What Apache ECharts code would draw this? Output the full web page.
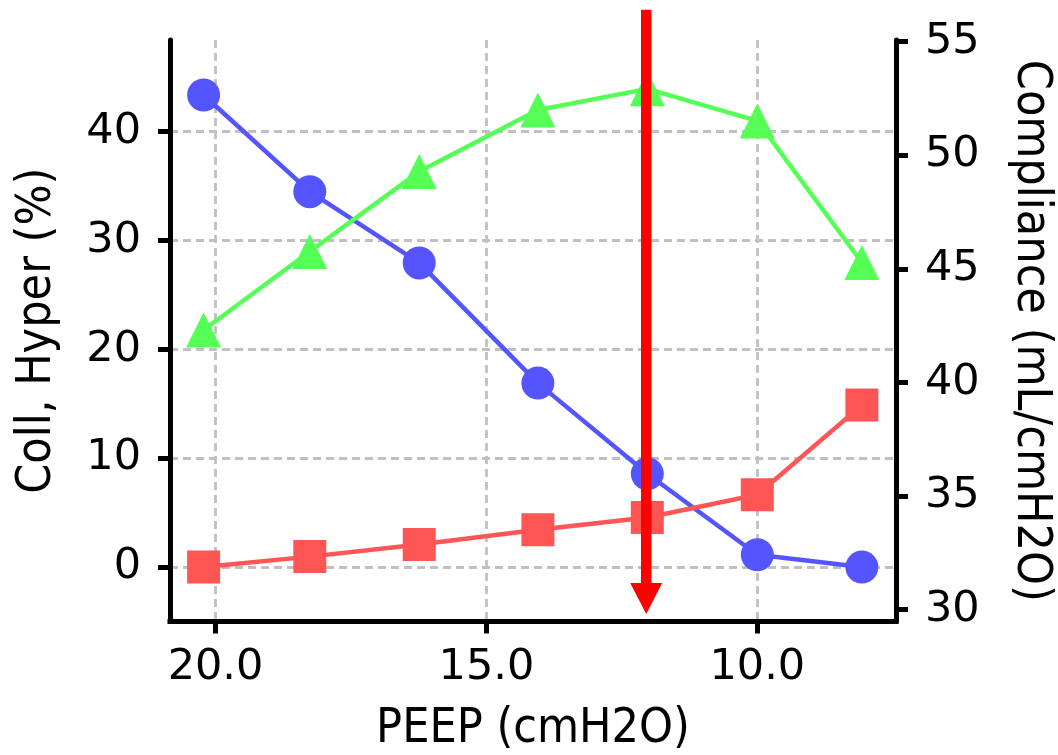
<!DOCTYPE html>
<html>
<head>
<meta charset="utf-8">
<script src="https://cdn.jsdelivr.net/npm/echarts@6/dist/echarts.min.js"></script>
<style>
html,body{margin:0;padding:0;background:#fff;}
#chart{width:1058px;height:755px;}
</style>
</head>
<body>
<div id="chart"></div>
<script>
// ---- data ----
const peep = [20.22, 18.26, 16.24, 14.05, 12.03, 10.0, 8.07];
const coll = [43.37, 34.49, 27.94, 16.90, 8.57, 1.13, 0.0];
const hyper = [0.0, 0.96, 2.07, 3.43, 4.56, 6.64, 14.88];
const compliance = [42.31, 45.76, 49.28, 51.99, 52.92, 51.51, 45.28];
const xTicks = [20, 15, 10];
const leftTicks = [0, 10, 20, 30, 40];
const rightTicks = [30, 35, 40, 45, 50, 55];
const arrowPeep = 12.05;
const arrowFrom = 51.2;   // left-axis value at arrow tail
const arrowTo = -4.3;     // left-axis value at arrow tip

const pair = (xs, ys) => xs.map((x, i) => [x, ys[i]]);

const tickFont = 'DejaVu Sans';
const nameFont = '"DejaVu Sans Condensed", "DejaVu Sans"';
const axisLineStyle = {color: '#000', width: 5};
const gridLine = {color: '#c0c0c0', width: 2.8, type: [8, 5]};

const chart = echarts.init(document.getElementById('chart'));
const option = {
  animation: false,
  backgroundColor: '#fff',
  grid: {left: 170, right: 162, top: 40, bottom: 133.5, containLabel: false, outerBoundsMode: 'none'},
  xAxis: {
    type: 'value', inverse: true, min: 7.44, max: 20.84, splitNumber: 3,
    axisLine: {show: true, onZero: false, lineStyle: Object.assign({cap: 'square'}, axisLineStyle)},
    axisTick: {show: true, customValues: xTicks, length: 12, lineStyle: axisLineStyle},
    axisLabel: {customValues: xTicks, formatter: v => v.toFixed(1), fontFamily: tickFont, fontSize: 43, color: '#000', margin: 25},
    splitLine: {show: true, lineStyle: gridLine},
    name: 'PEEP (cmH2O)', nameLocation: 'middle', nameGap: 84,
    nameTextStyle: {fontFamily: nameFont, fontSize: 48, color: '#000'}
  },
  yAxis: [
    {
      type: 'value', position: 'left', min: -5, max: 48.42,
      axisLine: {show: true, onZero: false, lineStyle: axisLineStyle},
      axisTick: {show: true, customValues: leftTicks, length: 12, lineStyle: axisLineStyle},
      axisLabel: {customValues: leftTicks, fontFamily: tickFont, fontSize: 43, color: '#000', margin: 29},
      splitLine: {show: true, lineStyle: gridLine},
      name: 'Coll, Hyper (%)', nameLocation: 'middle', nameRotate: 90, nameGap: 108,
      nameTextStyle: {fontFamily: nameFont, fontSize: 48, color: '#000'}
    },
    {
      type: 'value', position: 'right', min: 29.48, max: 55.07,
      axisLine: {show: true, onZero: false, lineStyle: axisLineStyle},
      axisTick: {show: true, customValues: rightTicks, length: 12, lineStyle: axisLineStyle},
      axisLabel: {customValues: rightTicks, fontFamily: tickFont, fontSize: 43, color: '#000', margin: 29},
      splitLine: {show: false},
      name: 'Compliance (mL/cmH2O)', nameLocation: 'middle', nameRotate: -90, nameGap: 110,
      nameTextStyle: {fontFamily: nameFont, fontSize: 48, color: '#000'}
    }
  ],
  series: [
    {name: 'Coll', type: 'line', data: pair(peep, coll), yAxisIndex: 0,
     symbol: 'circle', symbolSize: 33, showAllSymbol: true,
     lineStyle: {color: '#5555ff', width: 4.5}, itemStyle: {color: '#5555ff'}},
    {name: 'Hyper', type: 'line', data: pair(peep, hyper), yAxisIndex: 0,
     symbol: 'rect', symbolSize: 33, showAllSymbol: true,
     lineStyle: {color: '#ff5555', width: 4.5}, itemStyle: {color: '#ff5555'}},
    {name: 'Compliance', type: 'line', data: pair(peep, compliance), yAxisIndex: 1,
     symbol: 'triangle', symbolSize: 35, showAllSymbol: true,
     lineStyle: {color: '#55ff55', width: 4.5}, itemStyle: {color: '#55ff55'}}
  ]
};
chart.setOption(option);

// red arrow positioned through the library's scales
const ax = chart.convertToPixel({xAxisIndex: 0}, arrowPeep);
const ay0 = chart.convertToPixel({yAxisIndex: 0}, arrowFrom);
const ay1 = chart.convertToPixel({yAxisIndex: 0}, arrowTo);
const headLen = 31, headHalf = 16;
chart.setOption({
  graphic: [
    {type: 'line', z: 100, shape: {x1: ax, y1: ay0, x2: ax, y2: ay1 - headLen + 1},
     style: {stroke: '#ff0000', lineWidth: 10.5}},
    {type: 'polygon', z: 100, shape: {points: [[ax - headHalf, ay1 - headLen], [ax + headHalf, ay1 - headLen], [ax, ay1]]},
     style: {fill: '#ff0000'}}
  ]
});
</script>
</body>
</html>
